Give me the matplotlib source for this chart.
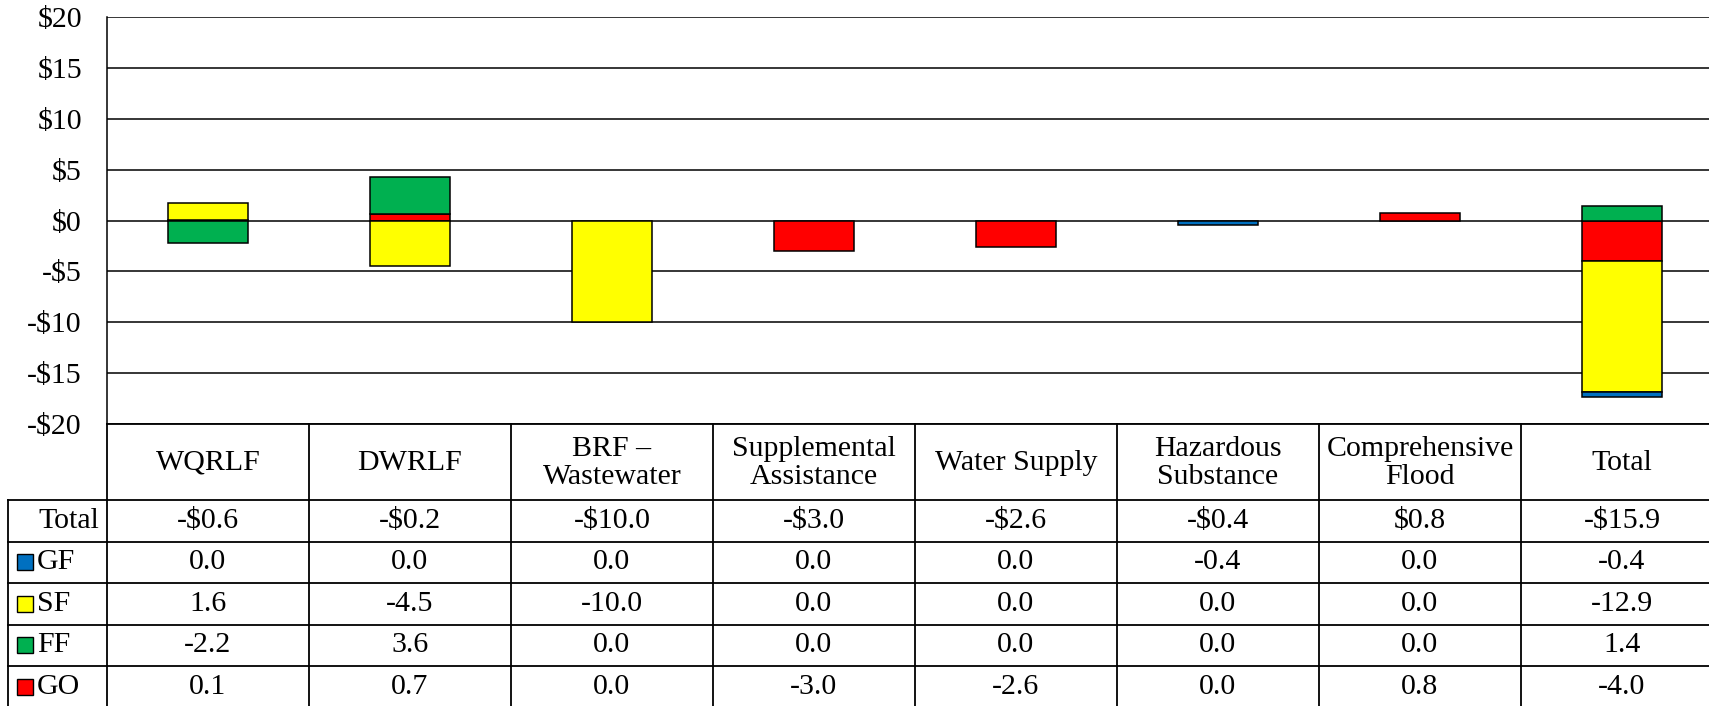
import numpy as np
import matplotlib
matplotlib.use("Agg")
from matplotlib import pyplot as plt

plt.rcParams['font.family'] = ['Liberation Serif', 'DejaVu Serif']
plt.rcParams['text.parse_math'] = False

categories = ["WQRLF", "DWRLF", "BRF \u2013\nWastewater", "Supplemental\nAssistance",
              "Water Supply", "Hazardous\nSubstance", "Comprehensive\nFlood", "Total"]
totals = [-0.6, -0.2, -10.0, -3.0, -2.6, -0.4, 0.8, -15.9]
gf = [0.0, 0.0, 0.0, 0.0, 0.0, -0.4, 0.0, -0.4]
sf = [1.6, -4.5, -10.0, 0.0, 0.0, 0.0, 0.0, -12.9]
ff = [-2.2, 3.6, 0.0, 0.0, 0.0, 0.0, 0.0, 1.4]
go = [0.1, 0.7, 0.0, -3.0, -2.6, 0.0, 0.8, -4.0]

series_names = ["GF", "SF", "FF", "GO"]
series_vals = [gf, sf, ff, go]
colors = {"GF": "#0070C0", "SF": "#FFFF00", "FF": "#00B050", "GO": "#FF0000"}
yticks = [-20, -15, -10, -5, 0, 5, 10, 15, 20]

FS = 21.5
W, H = 1709, 706
fig = plt.figure(figsize=(W / 100, H / 100), dpi=100)

# pixel layout (top-origin)
left_px, col_px = 107, 202
top_px, axbot_px = 17.3, 424
head_bot = 500
row_h = 41.5

ax_w = 8 * col_px / W
ax = fig.add_axes([left_px / W, 1 - axbot_px / H, ax_w, (axbot_px - top_px) / H])
x = np.arange(len(categories))

# Excel-style stacking: positives and negatives stacked separately
pos = np.zeros(len(x))
neg = np.zeros(len(x))
for name in ["GO", "FF", "SF", "GF"]:
    v = np.array(series_vals[series_names.index(name)])
    bottom = np.where(v >= 0, pos, neg)
    m = v != 0
    ax.bar(x[m], v[m], 0.4, bottom=bottom[m], color=colors[name],
           edgecolor="black", linewidth=1.1, zorder=3)
    pos = pos + np.where(v > 0, v, 0)
    neg = neg + np.where(v < 0, v, 0)

ax.set_xlim(-0.5, 7.5)
ax.set_ylim(-20, 20)
ax.set_yticks(yticks)
ax.set_yticklabels([("-$%d" % -t) if t < 0 else ("$%d" % t) for t in yticks], fontsize=FS)
ax.tick_params(axis="y", length=0, pad=18)
ax.set_xticks([])
ax.yaxis.grid(True, color="black", linewidth=1.1)
ax.set_axisbelow(True)
for s in ["top", "right", "bottom"]:
    ax.spines[s].set_visible(False)
ax.spines["left"].set_linewidth(1.1)

# data table below, sharing x with the chart
tax = fig.add_axes([left_px / W, 0, ax_w, 1 - axbot_px / H], sharex=ax)
tax.set_ylim(H, axbot_px)
tax.axis("off")


def xd(px):
    return -0.5 + (px - left_px) / col_px


lkw = dict(color="black", linewidth=1.3, clip_on=False)
xl = xd(8)
rows = [head_bot + i * row_h for i in range(6)]
tax.plot([-0.5, 7.5], [axbot_px, axbot_px], **lkw)
for r in rows:
    tax.plot([xl, 7.5], [r, r], **lkw)
tax.plot([xl, xl], [head_bot, H + 5], **lkw)
for b in np.arange(-0.5, 8.0, 1.0):
    tax.plot([b, b], [axbot_px, H + 5], **lkw)

for i, c in enumerate(categories):
    tax.text(i, (axbot_px + head_bot) / 2 + 1, c, ha="center", va="center",
             fontsize=FS, linespacing=1.15)


def fmt_total(v):
    return ("-$%.1f" % -v) if v < 0 else ("$%.1f" % v)


yc = rows[0] + row_h / 2
tax.text(xd(99), yc, "Total", ha="right", va="center", fontsize=FS)
for i, v in enumerate(totals):
    tax.text(i, yc, fmt_total(v), ha="center", va="center", fontsize=FS)

for k, (name, vals) in enumerate(zip(series_names, series_vals)):
    yc = rows[k + 1] + row_h / 2
    tax.plot([xd(25)], [yc], marker="s", markersize=11.5, color=colors[name],
             markeredgecolor="black", markeredgewidth=1.0, clip_on=False)
    tax.text(xd(37), yc, name, ha="left", va="center", fontsize=FS)
    for i, v in enumerate(vals):
        s = "%.1f" % v
        if s == "-0.0":
            s = "0.0"
        tax.text(i, yc, s, ha="center", va="center", fontsize=FS)

fig.savefig("out.png", dpi=100)
